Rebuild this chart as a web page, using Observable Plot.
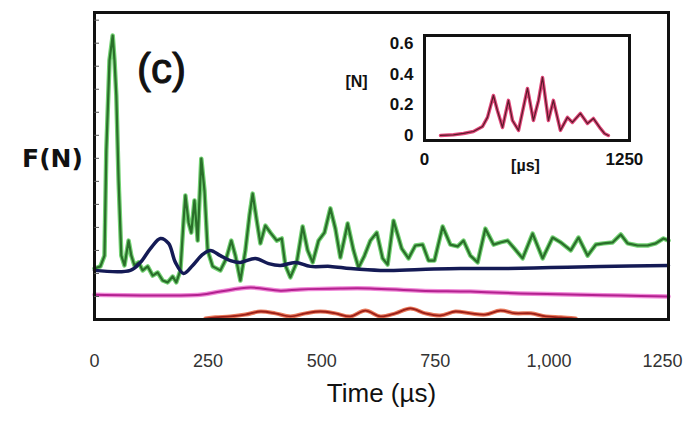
<!DOCTYPE html>
<html>
<head>
<meta charset="utf-8">
<script src="https://cdn.jsdelivr.net/npm/d3@7"></script>
<script src="https://cdn.jsdelivr.net/npm/@observablehq/plot@0.6"></script>
<style>
  html, body { margin: 0; padding: 0; background: #fff; }
  #wrap { position: relative; width: 697px; height: 427px; overflow: hidden; }
  #inset { position: absolute; left: 330px; top: 25px; }
  #inset svg text { font-weight: bold !important; }
</style>
</head>
<body>
<div id="wrap"><div id="main"></div><div id="inset"></div></div>
<script>
// ---- Main panel data (time in µs, force in arbitrary units) ----
const xTicks = [0, 250, 500, 750, 1000, 1250];
const xTickLabels = ["0", "250", "500", "750", "1,000", "1250"];

const greenT = [0,13,22,26,33,40,44,48,53,59,66,75,81,88,97,106,117,128,139,150,161,172,180,189,196,200,207,213,220,227,235,242,249,260,277,290,301,310,321,332,341,348,357,365,376,387,401,412,420,431,445,458,469,480,493,506,519,530,541,557,570,581,594,607,621,634,645,658,676,691,706,722,735,748,766,783,799,812,827,843,860,878,893,909,924,942,964,986,1008,1026,1048,1065,1085,1103,1120,1140,1158,1173,1195,1217,1235,1252,1263];
const greenF = [0.166,0.173,0.208,0.550,0.844,0.925,0.844,0.730,0.453,0.208,0.176,0.257,0.208,0.176,0.186,0.160,0.173,0.143,0.153,0.127,0.121,0.140,0.121,0.160,0.322,0.404,0.316,0.283,0.388,0.257,0.524,0.420,0.225,0.173,0.160,0.199,0.257,0.208,0.127,0.225,0.339,0.410,0.322,0.248,0.306,0.283,0.257,0.264,0.176,0.137,0.186,0.303,0.225,0.186,0.257,0.283,0.362,0.296,0.202,0.313,0.225,0.169,0.208,0.257,0.283,0.199,0.179,0.322,0.231,0.199,0.241,0.244,0.192,0.192,0.303,0.244,0.238,0.257,0.208,0.186,0.296,0.244,0.251,0.257,0.231,0.199,0.280,0.199,0.267,0.251,0.225,0.267,0.208,0.244,0.248,0.251,0.277,0.248,0.241,0.241,0.248,0.264,0.257];

const navyT = [0,79,101,123,145,163,178,196,216,238,255,277,299,321,354,383,409,442,475,519,563,629,717,805,894,1004,1114,1263];
const navyF = [0.160,0.160,0.186,0.231,0.264,0.248,0.186,0.150,0.176,0.212,0.225,0.208,0.192,0.186,0.199,0.182,0.176,0.186,0.173,0.173,0.166,0.160,0.163,0.166,0.166,0.169,0.173,0.176];

const magentaT = [0,233,277,343,409,453,541,607,717,827,937,1070,1158,1263];
const magentaF = [0.081,0.081,0.091,0.104,0.094,0.098,0.101,0.101,0.094,0.091,0.085,0.081,0.078,0.075];

const redT = [244,266,299,332,365,398,431,464,497,530,563,596,629,662,695,728,761,794,827,860,893,926,960,993,1026,1059];
const redF = [0.003,0.007,0.010,0.016,0.026,0.020,0.010,0.020,0.026,0.020,0.010,0.029,0.010,0.020,0.036,0.020,0.013,0.026,0.020,0.016,0.029,0.020,0.020,0.010,0.007,0.003];

// ---- Inset data ([µs], [N]) ----
const insetYTicks = [0, 0.2, 0.4, 0.6];
const insetYTickLabels = ["0", "0.2", "0.4", "0.6"];
const insetXTicks = [0, 1250];
const insetXTickLabels = ["0", "1250"];
const insetT = [100,181,244,306,363,394,431,456,488,525,550,588,644,681,713,738,775,806,850,894,925,975,1019,1056,1100,1125,1150];
const insetF = [0,0.004,0.013,0.026,0.059,0.118,0.261,0.163,0.052,0.229,0.098,0.033,0.307,0.098,0.229,0.379,0.098,0.229,0.033,0.118,0.085,0.144,0.078,0.111,0.046,0.013,0];

const zip = (T, F) => T.map((t, i) => ({t, f: F[i]}));
const green = zip(greenT, greenF);
const navy = zip(navyT, navyF);
const magenta = zip(magentaT, magentaF);
const red = zip(redT, redF);
const insetData = zip(insetT, insetF);

const xLab = new Map(xTicks.map((d, i) => [d, xTickLabels[i]]));
const yTicksMain = d3.range(0.075, 0.99, 0.075);

const main = Plot.plot({
  width: 697, height: 427,
  marginLeft: 94, marginRight: 29, marginTop: 12, marginBottom: 108,
  x: {domain: [0, 1263], label: null},
  y: {domain: [0, 1], label: null},
  style: {fontFamily: "'Liberation Sans', Arial, sans-serif", background: "white", color: "#222"},
  marks: [
    Plot.line(red, {x: "t", y: "f", stroke: "#e8785a", strokeWidth: 4, curve: "catmull-rom"}),
    Plot.line(red, {x: "t", y: "f", stroke: "#9c1f18", strokeWidth: 1.8, curve: "catmull-rom"}),
    Plot.line(magenta, {x: "t", y: "f", stroke: "#f08ad8", strokeWidth: 4.5, curve: "catmull-rom"}),
    Plot.line(magenta, {x: "t", y: "f", stroke: "#b3218f", strokeWidth: 2, curve: "catmull-rom"}),
    Plot.line(green, {x: "t", y: "f", stroke: "#74d274", strokeWidth: 4.5}),
    Plot.line(green, {x: "t", y: "f", stroke: "#2a6f2a", strokeWidth: 2.2}),
    Plot.line(navy, {x: "t", y: "f", stroke: "#141a55", strokeWidth: 3.5, curve: "catmull-rom"}),
    Plot.frame({stroke: "#111", strokeWidth: 3}),
    Plot.axisY({ticks: yTicksMain, tickSize: -5, tickFormat: () => "", label: null, stroke: "#555"}),
    Plot.axisX({ticks: xTicks, tickFormat: d => xLab.get(d), tickSize: 0, tickPadding: 35, fontSize: 18, label: null, fill: "#333"}),
    Plot.text(["Time (µs)"], {frameAnchor: "bottom", textAnchor: "middle", dy: 82, fontSize: 26, fill: "#111"}),
    Plot.text(["F(N)"], {frameAnchor: "top-left", textAnchor: "middle", dx: -42, dy: 137, fontSize: 25, fontWeight: "bold", fontFamily: "'DejaVu Sans', sans-serif", fill: "#111"}),
    Plot.text(["(c)"], {frameAnchor: "top-left", textAnchor: "middle", dx: 67, dy: 41, fontSize: 42, fill: "#111", stroke: "#111", strokeWidth: 1})
  ]
});
document.getElementById("main").append(main);

const iyLab = new Map(insetYTicks.map((d, i) => [d, insetYTickLabels[i]]));
const ixLab = new Map(insetXTicks.map((d, i) => [d, insetXTickLabels[i]]));

const inset = Plot.plot({
  width: 330, height: 155,
  marginLeft: 94, marginRight: 31, marginTop: 10, marginBottom: 40,
  x: {domain: [0, 1282], label: null},
  y: {domain: [-0.033, 0.653], label: null},
  style: {fontFamily: "'Liberation Sans', Arial, sans-serif", background: "transparent", color: "#111"},
  marks: [
    Plot.line(insetData, {x: "t", y: "f", stroke: "#e0487a", strokeWidth: 3.5}),
    Plot.line(insetData, {x: "t", y: "f", stroke: "#5a1a2a", strokeWidth: 1.2}),
    Plot.frame({stroke: "#111", strokeWidth: 3}),
    Plot.axisY({ticks: insetYTicks, tickFormat: d => iyLab.get(d), tickSize: 0, tickPadding: 11, fontSize: 17, label: null}),
    Plot.axisX({ticks: insetXTicks, tickFormat: d => ixLab.get(d), tickSize: 0, tickPadding: 12, fontSize: 17, label: null}),
    Plot.text(["[N]"], {frameAnchor: "top-left", textAnchor: "middle", dx: -68, dy: 40, fontSize: 16}),
    Plot.text(["[µs]"], {frameAnchor: "bottom-left", textAnchor: "middle", dx: 101, dy: 30, fontSize: 16})
  ]
});
document.getElementById("inset").append(inset);
</script>
</body>
</html>
